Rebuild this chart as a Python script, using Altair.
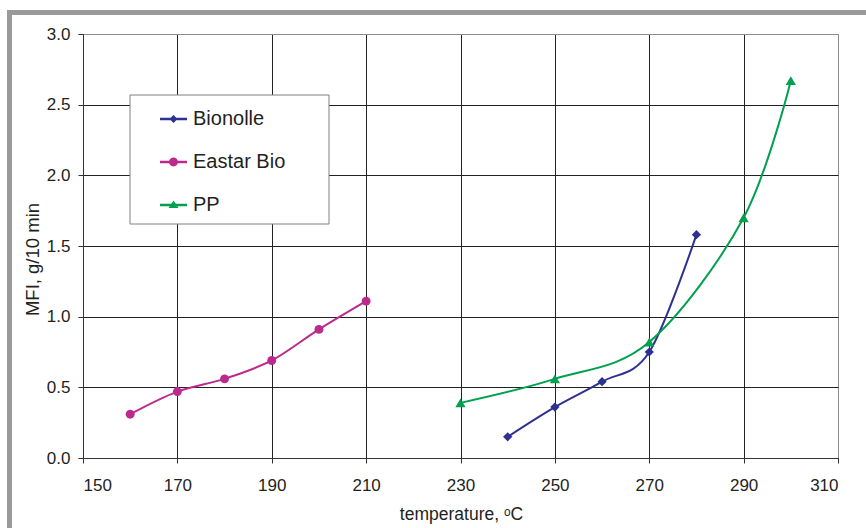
import altair as alt
import pandas as pd

# ---- data ----
series_names = ["Bionolle", "Eastar Bio", "PP"]
series_colors = ["#2E3192", "#BC2A8D", "#00A04F"]

bionolle_temp = [240, 250, 260, 270, 280]
bionolle_mfi = [0.15, 0.36, 0.54, 0.75, 1.58]

eastar_temp = [160, 170, 180, 190, 200, 210]
eastar_mfi = [0.31, 0.47, 0.56, 0.69, 0.91, 1.11]

pp_temp = [230, 250, 270, 290, 300]
pp_mfi = [0.39, 0.56, 0.82, 1.70, 2.67]

x_ticks = [150, 170, 190, 210, 230, 250, 270, 290, 310]
y_ticks = [0.0, 0.5, 1.0, 1.5, 2.0, 2.5, 3.0]

rows = []
for name, ts, vs in [("Bionolle", bionolle_temp, bionolle_mfi),
                     ("Eastar Bio", eastar_temp, eastar_mfi),
                     ("PP", pp_temp, pp_mfi)]:
    for t, v in zip(ts, vs):
        rows.append({"series": name, "temp": t, "mfi": v})
df = pd.DataFrame(rows)

FONT = "Liberation Sans"
TXT = "#231f20"
GRID = "#222222"
BORDER = "#8c8c8c"

x_enc = alt.X(
    "temp:Q",
    scale=alt.Scale(domain=[150, 310], nice=False, zero=False),
    axis=alt.Axis(
        values=x_ticks, title="temperature, ᵒC", format="d",
        labelFont=FONT, labelFontSize=17, labelColor=TXT, labelPadding=14,
        titleFont=FONT, titleFontSize=17.5, titleColor=TXT, titleFontWeight="normal",
        titleX=378, titleY=61, titleBaseline="alphabetic",
        tickSize=5, tickColor="#333333", domainColor="#333333",
        grid=True,
        gridColor={"condition": {"test": "datum.value == 310", "value": BORDER}, "value": GRID},
        gridWidth=1,
    ),
)
y_enc = alt.Y(
    "mfi:Q",
    scale=alt.Scale(domain=[0, 3], nice=False),
    axis=alt.Axis(
        values=y_ticks, title="MFI, g/10 min", format=".1f",
        labelFont=FONT, labelFontSize=17, labelColor=TXT, labelPadding=8,
        titleFont=FONT, titleFontSize=18.5, titleColor=TXT, titleFontWeight="normal",
        titleAngle=270, titleX=-45, titleY=225, titleBaseline="alphabetic", titleAlign="center",
        tickSize=5, tickColor="#333333", domainColor="#333333",
        grid=True,
        gridColor={"condition": {"test": "datum.value == 3", "value": BORDER}, "value": GRID},
        gridWidth=1,
    ),
)
color_scale = alt.Scale(domain=series_names, range=series_colors)

# decorative outer frame (grey border of the figure)
frame = alt.Chart(alt.Data(values=[{}])).mark_rect(
    fill=None, stroke="#9a9a9a", strokeWidth=5
).encode(
    x=alt.value(-73.5), x2=alt.value(800),
    y=alt.value(-21.5), y2=alt.value(510),
)

# legend box
legend_box = alt.Chart(alt.Data(values=[{}])).mark_rect(
    fill="white", stroke="#808080", strokeWidth=1
).encode(
    x=alt.value(47), x2=alt.value(246),
    y=alt.value(61), y2=alt.value(190),
)

marker_shapes = {"Bionolle": ("diamond", 85), "Eastar Bio": ("circle", 80), "PP": ("triangle-up", 105)}
series_layers = []
for name, col in zip(series_names, series_colors):
    shp, sz = marker_shapes[name]
    base = alt.Chart(df).transform_filter(alt.datum.series == name)
    series_layers.append(
        base.mark_line(interpolate="cardinal", strokeWidth=2, color=col).encode(x=x_enc, y=y_enc)
    )
    series_layers.append(
        base.mark_point(filled=True, shape=shp, size=sz, opacity=1, color=col).encode(x=x_enc, y=y_enc)
    )

bar = "M-1,-0.09L1,-0.09L1,0.09L-1,0.09Z"
legend_paths = [
    bar + "M0,-0.3L0.3,0L0,0.3L-0.3,0Z",
    bar + "M-0.33,0A0.33,0.33 0 1,1 0.33,0A0.33,0.33 0 1,1 -0.33,0Z",
    bar + "M0,-0.33L0.37,0.22L-0.37,0.22Z",
]
legend_spec = alt.Legend(
    orient="none", legendX=77, legendY=71.5, padding=0, title=None,
    symbolSize=729, symbolStrokeWidth=0, symbolOpacity=1,
    labelFont=FONT, labelFontSize=20, labelColor=TXT, labelOffset=6,
    rowPadding=19, labelLimit=300,
)
legend_layer = alt.Chart(df).mark_point(filled=True, opacity=0).encode(
    x=x_enc, y=y_enc,
    color=alt.Color("series:N", scale=color_scale, legend=legend_spec),
    shape=alt.Shape("series:N", scale=alt.Scale(domain=series_names, range=legend_paths), legend=legend_spec),
)

chart = alt.layer(frame, legend_box, *series_layers, legend_layer).properties(
    width=755, height=424,
    autosize=alt.AutoSizeParams(type="none"),
    padding={"left": 83, "top": 34, "right": 28, "bottom": 70},
    background="white",
).configure_view(stroke=BORDER, strokeWidth=1)

chart.save("out.html", embed_options={"renderer": "svg", "actions": False})
